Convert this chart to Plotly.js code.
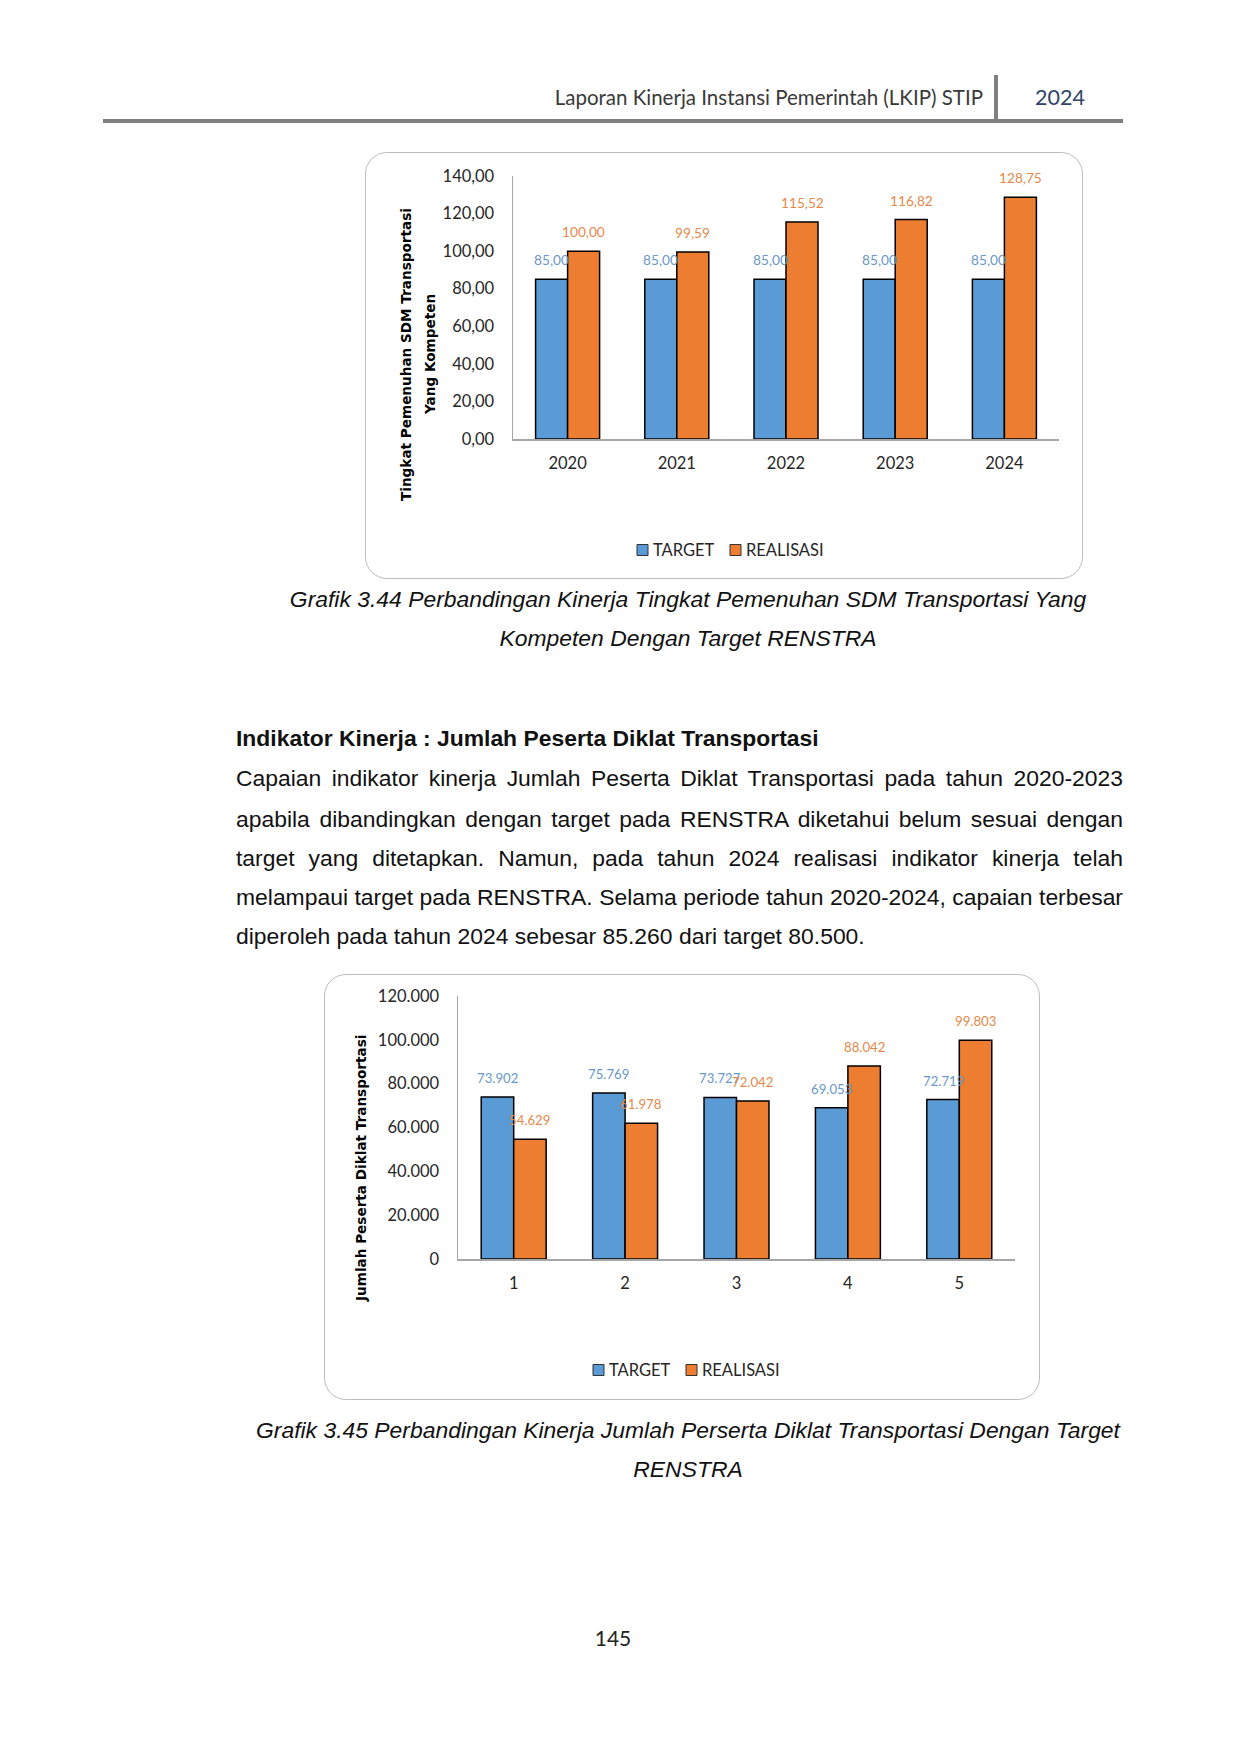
<!DOCTYPE html>
<html>
<head>
<meta charset="utf-8">
<script src="https://cdn.plot.ly/plotly-3.0.1.min.js"></script>
<style>
  html, body { margin: 0; padding: 0; background: #ffffff; }
  #page { position: relative; width: 1241px; height: 1754px; background: #ffffff; overflow: hidden; }
  .abs { position: absolute; white-space: nowrap; }
  .box { position: absolute; border: 1.5px solid #bdbdbd; border-radius: 22px; box-sizing: border-box; background: #fff; }
  .plot { position: absolute; left: 0; top: 0; }
  .body { font-family: "Liberation Sans", Arial, sans-serif; font-size: 22.9px; color: #111; }
  .cap { font-family: "Liberation Sans", Arial, sans-serif; font-style: italic; font-size: 22.9px; color: #111; text-align: center; }
  .jl { position: absolute; left: 236px; width: 887px; text-align: justify; text-align-last: justify; white-space: nowrap; }
  .ll { position: absolute; left: 236px; white-space: nowrap; }
</style>
</head>
<body>
<div id="page">
  <!-- header -->
  <div class="abs" style="right:258px; top:84px; line-height:26px; font-family:Lato, sans-serif; font-size:20.5px; color:#3a3a3a;">Laporan Kinerja Instansi Pemerintah (LKIP) STIP</div>
  <div class="abs" style="left:1010px; width:100px; text-align:center; top:83px; line-height:28px; font-family:Lato, sans-serif; font-size:21.5px; color:#2e4468;">2024</div>
  <div class="abs" style="left:994px; top:75px; width:4px; height:47px; background:#808080;"></div>
  <div class="abs" style="left:103px; top:119px; width:1020px; height:4px; background:#808080;"></div>

  <!-- chart 1 -->
  <div class="box" id="box1" style="left:365px; top:152px; width:718px; height:427px;">
    <div class="plot" id="chart1"></div>
  </div>

  <div class="abs cap" style="left:188px; width:1000px; top:585px; line-height:28px;">Grafik 3.44 Perbandingan Kinerja Tingkat Pemenuhan SDM Transportasi Yang</div>
  <div class="abs cap" style="left:188px; width:1000px; top:624px; line-height:28px;">Kompeten Dengan Target RENSTRA</div>

  <div class="ll body" style="top:724px; line-height:28px; font-weight:bold;">Indikator Kinerja : Jumlah Peserta Diklat Transportasi</div>
  <div class="jl body" style="top:764px; line-height:28px;">Capaian indikator kinerja Jumlah Peserta Diklat Transportasi pada tahun 2020-2023</div>
  <div class="jl body" style="top:805px; line-height:28px;">apabila dibandingkan dengan target pada RENSTRA diketahui belum sesuai dengan</div>
  <div class="jl body" style="top:844px; line-height:28px;">target yang ditetapkan. Namun, pada tahun 2024 realisasi indikator kinerja telah</div>
  <div class="jl body" style="top:883px; line-height:28px;">melampaui target pada RENSTRA. Selama periode tahun 2020-2024, capaian terbesar</div>
  <div class="ll body" style="top:922px; line-height:28px;">diperoleh pada tahun 2024 sebesar 85.260 dari target 80.500.</div>

  <!-- chart 2 -->
  <div class="box" id="box2" style="left:324px; top:974px; width:716px; height:426px;">
    <div class="plot" id="chart2"></div>
  </div>

  <div class="abs cap" style="left:188px; width:1000px; top:1416px; line-height:28px;">Grafik 3.45 Perbandingan Kinerja Jumlah Perserta Diklat Transportasi Dengan Target</div>
  <div class="abs cap" style="left:188px; width:1000px; top:1455px; line-height:28px;">RENSTRA</div>

  <div class="abs" style="left:563px; width:100px; text-align:center; top:1624px; line-height:28px; font-family:Lato, sans-serif; font-size:21px; color:#222;">145</div>
</div>

<script>
// ---------- data ----------
const years = ['2020', '2021', '2022', '2023', '2024'];
const target1 = [85.00, 85.00, 85.00, 85.00, 85.00];
const realisasi1 = [100.00, 99.59, 115.52, 116.82, 128.75];

const periods = ['1', '2', '3', '4', '5'];
const target2 = [73902, 75769, 73727, 69053, 72719];
const realisasi2 = [54629, 61978, 72042, 88042, 99803];

const seriesNames = ['TARGET', 'REALISASI'];
const yTitle1 = ['Tingkat Pemenuhan SDM Transportasi', 'Yang Kompeten'];
const yTitle2 = ['Jumlah Peserta Diklat Transportasi'];

// ---------- styles ----------
const BLUE = '#5b9bd5', ORANGE = '#ed7d31';
const BLUE_LBL = '#6a98c8', ORANGE_LBL = '#e5894a';
const FONT = 'Lato, "Open Sans", sans-serif';
const TITLE_FONT = '"DejaVu Sans", Verdana, sans-serif';

function fmt1(v) { return v.toFixed(2).replace('.', ','); }
function fmt2(v) { return String(Math.round(v)).replace(/\B(?=(\d{3})+(?!\d))/g, '.'); }

function makeChart(id, o) {
  const W = o.W, H = o.H, m = o.margin;
  const pw = W - m.l - m.r, ph = H - m.t - m.b;
  const px2x = px => (px - m.l) / pw;
  const px2y = py => 1 - (py - m.t) / ph;
  const colors = [BLUE, ORANGE];

  const traces = [
    { type: 'bar', name: seriesNames[0], x: o.cats, y: o.target, showlegend: false,
      marker: { color: BLUE, line: { color: '#000', width: 1.5 } } },
    { type: 'bar', name: seriesNames[1], x: o.cats, y: o.real, showlegend: false,
      marker: { color: ORANGE, line: { color: '#000', width: 1.5 } } }
  ];

  const anns = [];
  const shapes = [];
  const half = o.barHalf;
  o.cats.forEach((c, i) => {
    anns.push({ x: i, y: o.target[i], xref: 'x', yref: 'y', text: o.fmt(o.target[i]),
      showarrow: false, xshift: -half, yshift: 9, yanchor: 'bottom', xanchor: 'center',
      font: { family: FONT, size: o.lblSize, color: BLUE_LBL } });
    anns.push({ x: i, y: o.real[i], xref: 'x', yref: 'y', text: o.fmt(o.real[i]),
      showarrow: false, xshift: half, yshift: 9, yanchor: 'bottom', xanchor: 'center',
      font: { family: FONT, size: o.lblSize, color: ORANGE_LBL } });
  });
  o.titles.forEach((t, k) => {
    anns.push({ x: px2x(o.titlePos[k][0]), y: px2y(o.titlePos[k][1]), xref: 'paper', yref: 'paper',
      text: '<b>' + t + '</b>', textangle: -90, showarrow: false, xanchor: 'center', yanchor: 'middle',
      font: { family: TITLE_FONT, size: 13.6, color: '#000' } });
  });
  // legend (symbol square + label), positions in box pixels
  seriesNames.forEach((name, k) => {
    const sx = o.legend.sq[k], sy = o.legend.y, s = 11;
    shapes.push({ type: 'rect', xref: 'paper', yref: 'paper',
      x0: px2x(sx), x1: px2x(sx + s), y0: px2y(sy + s / 2), y1: px2y(sy - s / 2),
      fillcolor: colors[k], line: { color: '#333', width: 1 } });
    anns.push({ x: px2x(sx + s + 3), y: px2y(sy), xref: 'paper', yref: 'paper', text: name,
      showarrow: false, xanchor: 'left', yanchor: 'middle',
      font: { family: FONT, size: 16.5, color: '#262626' } });
  });

  const layout = {
    width: W, height: H, margin: m,
    paper_bgcolor: 'rgba(0,0,0,0)', plot_bgcolor: 'rgba(0,0,0,0)',
    separators: ',.',
    barmode: 'group', bargap: o.bargap, bargroupgap: 0,
    font: { family: FONT, color: '#262626' },
    showlegend: false,
    xaxis: { type: 'category', range: [-0.5, o.cats.length - 0.5], showline: true, linecolor: '#a6a6a6', linewidth: 1.5,
      showgrid: false, zeroline: false, ticks: '', ticklabelstandoff: o.xStandoff,
      tickfont: { family: FONT, size: 16.5, color: '#262626' }, fixedrange: true },
    yaxis: { range: o.yRange, dtick: o.dtick, tick0: 0, tickformat: o.tickformat,
      showline: true, linecolor: '#a6a6a6', linewidth: 1.5, showgrid: false, zeroline: false,
      ticks: '', ticklabelstandoff: o.yStandoff,
      tickfont: { family: FONT, size: 16.5, color: '#262626' }, fixedrange: true },
    annotations: anns,
    shapes: shapes
  };
  Plotly.newPlot(id, traces, layout, { staticPlot: true, displayModeBar: false });
}

makeChart('chart1', {
  W: 718, H: 427, margin: { l: 147, r: 25, t: 23, b: 141 },
  cats: years, target: target1, real: realisasi1, fmt: fmt1,
  yRange: [0, 140], dtick: 20, tickformat: '.2f',
  bargap: 0.414, barHalf: 16, lblSize: 13.7,
  titles: yTitle1, titlePos: [[40, 202], [64, 202]],
  legend: { sq: [271, 364], y: 397 }, xStandoff: 9, yStandoff: 14
});

makeChart('chart2', {
  W: 716, H: 426, margin: { l: 133, r: 26, t: 21, b: 142 },
  cats: periods, target: target2, real: realisasi2, fmt: fmt2,
  yRange: [0, 120000], dtick: 20000, tickformat: ',d',
  bargap: 0.417, barHalf: 16.2, lblSize: 13.2,
  titles: yTitle2, titlePos: [[36, 194]],
  legend: { sq: [268, 361], y: 395 }, xStandoff: 9, yStandoff: 14
});
</script>
</body>
</html>
